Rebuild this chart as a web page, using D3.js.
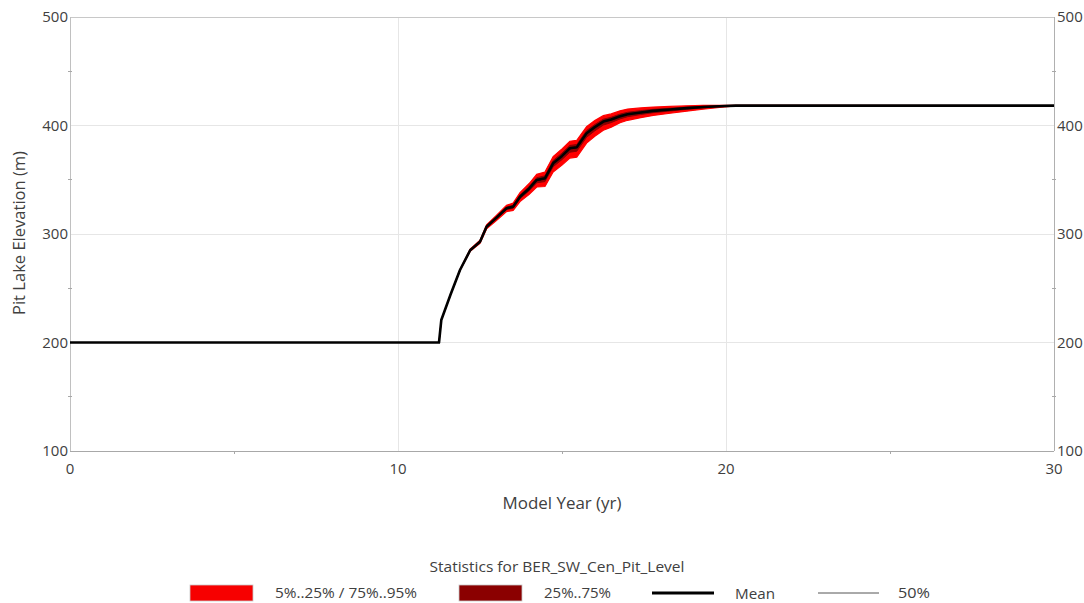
<!DOCTYPE html>
<html>
<head>
<meta charset="utf-8">
<script src="https://cdn.jsdelivr.net/npm/d3@7"></script>
<style>
  html, body { margin: 0; padding: 0; background: #ffffff; }
  svg { display: block; font-family: "Open Sans", "Noto Sans", sans-serif; }
</style>
</head>
<body>
<svg id="chart" width="1084" height="603"></svg>
<script>
// ---- data ----
const years = [0, 11.25, 11.32, 11.6, 11.89, 12.2, 12.5, 12.7, 13.0, 13.31, 13.51, 13.72, 14.0, 14.23, 14.48, 14.73, 15.0, 15.24, 15.45, 15.75, 16.0, 16.26, 16.5, 16.77, 17.0, 17.4, 17.78, 18.3, 18.8, 19.3, 19.8, 20.3, 30];
const meanVals = [200, 200, 220.7, 244, 266.8, 285, 292.9, 306.7, 315, 323.7, 325.2, 334.4, 342, 349.8, 351.3, 365.2, 372, 379, 379.9, 392.8, 398.5, 403.6, 405.5, 408.5, 410.3, 412, 413.5, 414.8, 416, 417, 417.8, 418.3, 418.3];
const p50Vals = [200, 200, 220.7, 244, 266.7, 284.8, 292.7, 306.4, 314.7, 323.4, 324.9, 334.0, 341.6, 349.4, 350.8, 364.8, 371.6, 378.6, 379.5, 392.4, 398.2, 403.3, 405.2, 408.2, 410.1, 411.8, 413.3, 414.7, 415.9, 417, 417.8, 418.3, 418.3];
const p5Vals = [200, 200, 220.7, 244, 266.4, 284, 291.4, 304.7, 312.5, 320.7, 321.7, 329.9, 336.5, 343.3, 343.8, 357.2, 363.5, 370, 370.9, 383.8, 390, 395.6, 398.5, 402.5, 404.8, 407.2, 409.3, 411.3, 413.2, 415, 416.6, 418, 418.3];
const p25Vals = [200, 200, 220.7, 244, 266.6, 284.6, 292.3, 305.9, 314, 322.5, 323.8, 332.6, 339.8, 347.2, 348.3, 362, 368.6, 375.4, 376.3, 389.2, 395.1, 400.4, 402.7, 406.1, 408.1, 410.1, 411.8, 413.4, 414.9, 416.2, 417.3, 418.2, 418.3];
const p75Vals = [200, 200, 220.7, 244, 267.0, 285.4, 293.4, 307.4, 315.9, 324.8, 326.5, 335.9, 343.8, 351.9, 353.6, 367.7, 374.6, 381.6, 382.5, 395.3, 400.9, 405.8, 407.6, 410.5, 412.2, 413.7, 414.9, 415.9, 416.9, 417.6, 418.1, 418.4, 418.3];
const p95Vals = [200, 200, 220.7, 244, 267.2, 286, 294.2, 308.5, 317.2, 326.5, 328.4, 338.2, 346.5, 355, 357.1, 371.4, 378.5, 385.5, 386.4, 399, 404.5, 409.1, 410.7, 413.5, 415.1, 416.2, 417, 417.6, 418.2, 418.5, 418.6, 418.5, 418.3];

const xTicks = [0, 10, 20, 30];
const xMinorTicks = [5, 15, 25];
const yTicks = [100, 200, 300, 400, 500];
const yMinorTicks = [150, 250, 350, 450];

const xTitle = "Model Year (yr)";
const yTitle = "Pit Lake Elevation (m)";
const legendTitle = "Statistics for BER_SW_Cen_Pit_Level";
const legendLabels = ["5%..25% / 75%..95%", "25%..75%", "Mean", "50%"];

// ---- layout ----
const svg = d3.select("#chart");
const L = 70, R = 1054, T = 17, B = 451;
const x = d3.scaleLinear().domain([0, 30]).range([L, R]);
const y = d3.scaleLinear().domain([100, 500]).range([B, T]);
const textCol = "#404040";

const rows = years.map((yr, i) => ({
  yr, mean: meanVals[i], p50: p50Vals[i], p5: p5Vals[i], p25: p25Vals[i], p75: p75Vals[i], p95: p95Vals[i]
}));

// gridlines
const g = svg.append("g");
g.selectAll(".hg").data(yTicks).join("line")
  .attr("x1", L).attr("x2", R).attr("y1", d => y(d)).attr("y2", d => y(d))
  .attr("stroke", "#e6e6e6").attr("stroke-width", 1).attr("shape-rendering", "crispEdges");
g.selectAll(".vg").data(xTicks).join("line")
  .attr("x1", d => x(d)).attr("x2", d => x(d)).attr("y1", T).attr("y2", B)
  .attr("stroke", "#e6e6e6").attr("stroke-width", 1).attr("shape-rendering", "crispEdges");

// frame
g.append("line").attr("x1", L).attr("x2", R).attr("y1", T).attr("y2", T).attr("stroke", "#c8c8c8").attr("shape-rendering", "crispEdges");
g.append("line").attr("x1", L).attr("x2", L).attr("y1", T).attr("y2", B).attr("stroke", "#c0c0c0").attr("shape-rendering", "crispEdges");
g.append("line").attr("x1", R).attr("x2", R).attr("y1", T).attr("y2", B).attr("stroke", "#b0b0b0").attr("shape-rendering", "crispEdges");
g.append("line").attr("x1", L).attr("x2", R).attr("y1", B).attr("y2", B).attr("stroke", "#a8a8a8").attr("shape-rendering", "crispEdges");

// minor ticks
g.selectAll(".xm").data(xMinorTicks).join("line")
  .attr("x1", d => x(d)).attr("x2", d => x(d)).attr("y1", B).attr("y2", B + 3)
  .attr("stroke", "#a8a8a8").attr("shape-rendering", "crispEdges");
g.selectAll(".ym").data(yMinorTicks).join("line")
  .attr("x1", L - 2).attr("x2", L + 2).attr("y1", d => y(d)).attr("y2", d => y(d))
  .attr("stroke", "#a8a8a8").attr("shape-rendering", "crispEdges");
g.selectAll(".ymr").data(yMinorTicks).join("line")
  .attr("x1", R - 2).attr("x2", R + 2).attr("y1", d => y(d)).attr("y2", d => y(d))
  .attr("stroke", "#a8a8a8").attr("shape-rendering", "crispEdges");

// tick labels
g.selectAll(".yl").data(yTicks).join("text")
  .attr("x", L - 2).attr("y", d => y(d)).attr("dy", "0.35em")
  .attr("text-anchor", "end").attr("fill", textCol).attr("font-size", 15).text(d => d);
g.selectAll(".yr").data(yTicks).join("text")
  .attr("x", R + 3).attr("y", d => y(d)).attr("dy", "0.35em")
  .attr("text-anchor", "start").attr("fill", textCol).attr("font-size", 15).text(d => d);
g.selectAll(".xl").data(xTicks).join("text")
  .attr("x", d => x(d)).attr("y", B + 18).attr("dy", "0.35em")
  .attr("text-anchor", "middle").attr("fill", textCol).attr("font-size", 15).text(d => d);

// axis titles
svg.append("text").attr("x", (L + R) / 2).attr("y", 503).attr("dy", "0.35em")
  .attr("text-anchor", "middle").attr("fill", textCol).attr("font-size", 16)
  .attr("textLength", 119).attr("lengthAdjust", "spacingAndGlyphs").text(xTitle);
svg.append("text").attr("transform", `translate(19,233) rotate(-90)`).attr("dy", "0.35em")
  .attr("text-anchor", "middle").attr("fill", textCol).attr("font-size", 16)
  .attr("textLength", 164).attr("lengthAdjust", "spacingAndGlyphs").text(yTitle);

// bands
const plot = svg.append("g");
plot.append("path").datum(rows)
  .attr("d", d3.area().x(d => x(d.yr)).y0(d => y(d.p5)).y1(d => y(d.p95)))
  .attr("fill", "#ff0000").attr("stroke", "#ff0000").attr("stroke-width", 1.2);
plot.append("path").datum(rows)
  .attr("d", d3.area().x(d => x(d.yr)).y0(d => y(d.p25)).y1(d => y(d.p75)))
  .attr("fill", "#8b0000").attr("stroke", "#8b0000").attr("stroke-width", 1);
plot.append("path").datum(rows)
  .attr("d", d3.line().x(d => x(d.yr)).y(d => y(d.p50)))
  .attr("fill", "none").attr("stroke", "#000").attr("stroke-width", 1);
plot.append("path").datum(rows)
  .attr("d", d3.line().x(d => x(d.yr)).y(d => y(d.mean)))
  .attr("fill", "none").attr("stroke", "#000").attr("stroke-width", 2.6).attr("stroke-linejoin", "round");

// legend
const lg = svg.append("g");
lg.append("text").attr("x", 557).attr("y", 567).attr("dy", "0.35em")
  .attr("text-anchor", "middle").attr("fill", textCol).attr("font-size", 15)
  .attr("textLength", 255).attr("lengthAdjust", "spacingAndGlyphs").text(legendTitle);
const ly = 593;
lg.append("rect").attr("x", 190).attr("y", ly - 8).attr("width", 63).attr("height", 16)
  .attr("fill", "#f70000").attr("stroke", "#c8c8c8").attr("stroke-width", 0.8);
lg.append("text").attr("x", 275).attr("y", ly).attr("dy", "0.35em").attr("fill", textCol).attr("font-size", 15)
  .attr("textLength", 142).attr("lengthAdjust", "spacingAndGlyphs").text(legendLabels[0]);
lg.append("rect").attr("x", 459).attr("y", ly - 8).attr("width", 63).attr("height", 16)
  .attr("fill", "#8b0000").attr("stroke", "#c8c8c8").attr("stroke-width", 0.8);
lg.append("text").attr("x", 544).attr("y", ly).attr("dy", "0.35em").attr("fill", textCol).attr("font-size", 15)
  .attr("textLength", 67).attr("lengthAdjust", "spacingAndGlyphs").text(legendLabels[1]);
lg.append("line").attr("x1", 652).attr("x2", 714).attr("y1", ly).attr("y2", ly).attr("stroke", "#000").attr("stroke-width", 3);
lg.append("text").attr("x", 735).attr("y", ly + 1).attr("dy", "0.35em").attr("fill", textCol).attr("font-size", 15)
  .attr("textLength", 40).attr("lengthAdjust", "spacingAndGlyphs").text(legendLabels[2]);
lg.append("line").attr("x1", 818).attr("x2", 879).attr("y1", ly).attr("y2", ly).attr("stroke", "#555").attr("stroke-width", 1);
lg.append("text").attr("x", 898).attr("y", ly).attr("dy", "0.35em").attr("fill", textCol).attr("font-size", 15)
  .attr("textLength", 32).attr("lengthAdjust", "spacingAndGlyphs").text(legendLabels[3]);
</script>
</body>
</html>
